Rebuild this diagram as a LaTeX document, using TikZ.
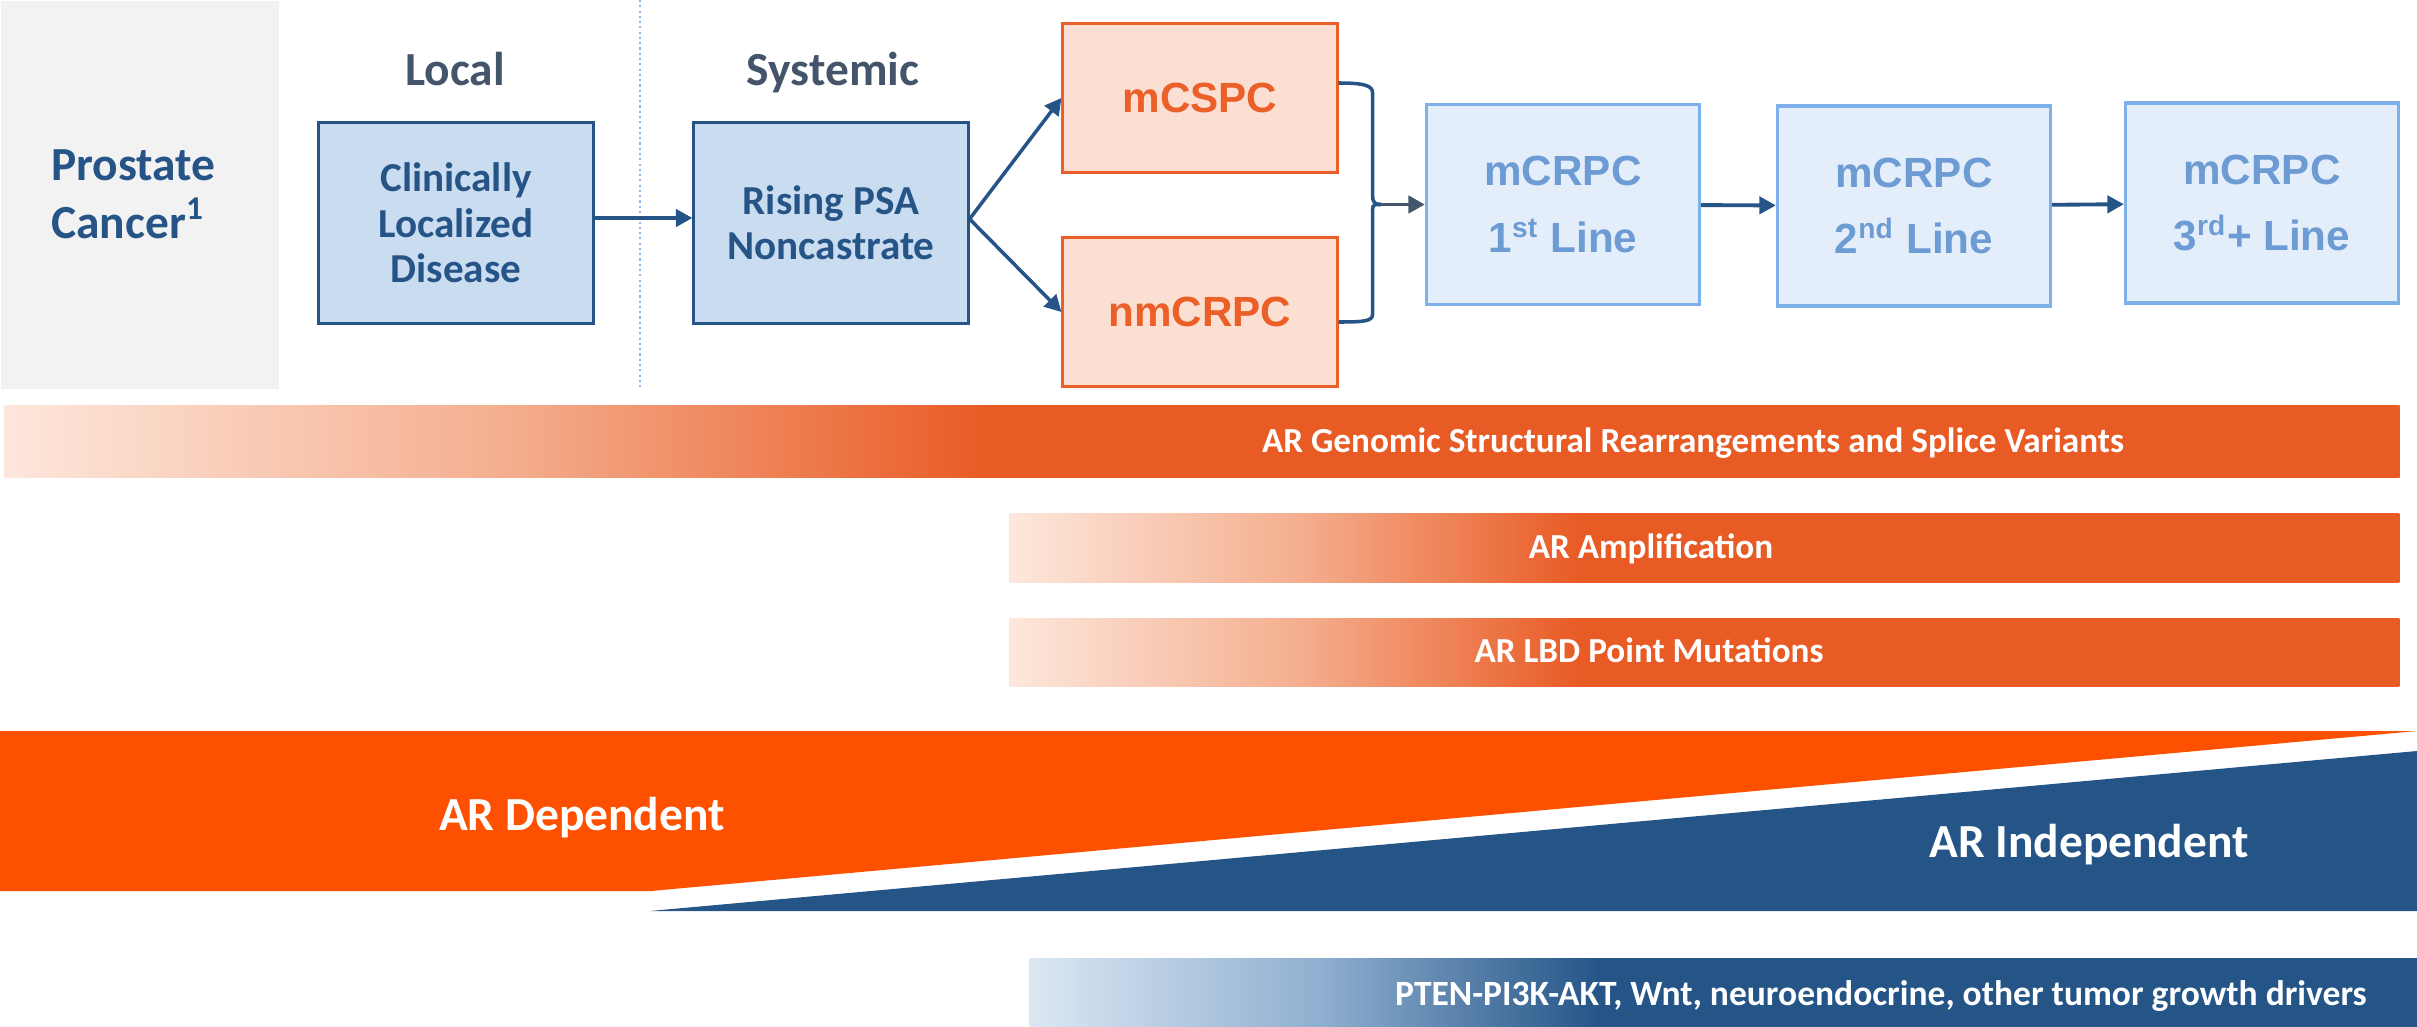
\documentclass[tikz,border=0pt]{standalone}
\usepackage{fontspec}
\setmainfont{Carlito}
\newfontfamily\arialfont{Liberation Sans}
\usepackage{tikz}
\usetikzlibrary{arrows.meta, positioning}
\definecolor{navy}{HTML}{265487}
\definecolor{slate}{HTML}{44546A}
\definecolor{panelgray}{HTML}{F2F2F2}
\definecolor{localfill}{HTML}{C9DCF0}
\definecolor{salmonfill}{HTML}{FBDFD3}
\definecolor{salmonline}{HTML}{EB5F28}
\definecolor{palefill}{HTML}{E4EEFA}
\definecolor{paleline}{HTML}{7EB0EA}
\definecolor{paletext}{HTML}{6D9BD3}
\definecolor{dotblue}{HTML}{8DB8EE}
\definecolor{barorange}{HTML}{E95B25}
\definecolor{barmid}{HTML}{F4AE8E}
\definecolor{barlight}{HTML}{FDE7DC}
\definecolor{deporange}{HTML}{FD5000}
\definecolor{indepblue}{HTML}{255587}
\definecolor{bluemid}{HTML}{8FAFD0}
\definecolor{bluelight}{HTML}{DCE7F3}
\pgfdeclarehorizontalshading{orangefade}{100bp}{color(0bp)=(barlight); color(25bp)=(barlight); color(35.5bp)=(barmid); color(45.5bp)=(barorange); color(100bp)=(barorange)}
\pgfdeclarehorizontalshading{bluefade}{100bp}{color(0bp)=(bluelight); color(25bp)=(bluelight); color(35.5bp)=(bluemid); color(45.5bp)=(indepblue); color(100bp)=(indepblue)}
\tikzstyle{panel} = [rectangle, inner sep=0pt, minimum width=2.78cm, minimum height=3.88cm, fill=panelgray]
\tikzstyle{heading} = [text=slate, font=\bfseries\fontsize{13.5}{16}\selectfont]
\tikzstyle{stage} = [rectangle, minimum width=2.74cm, minimum height=2cm, text centered, align=center, line width=0.85pt, draw=navy, fill=localfill, text=navy, font=\bfseries\fontsize{11.7}{12.9}\selectfont]
\tikzstyle{meta} = [rectangle, minimum width=2.74cm, minimum height=1.48cm, text centered, line width=0.85pt, draw=salmonline, fill=salmonfill, text=salmonline, font=\arialfont\bfseries\fontsize{12}{14}\selectfont]
\tikzstyle{crpc} = [rectangle, minimum width=2.73cm, minimum height=2cm, text centered, align=center, line width=0.9pt, draw=paleline, fill=palefill, text=paletext, font=\arialfont\bfseries\fontsize{12}{19}\selectfont]
\tikzstyle{orangebar} = [rectangle, inner sep=0pt, shade, shading=orangefade]
\tikzstyle{bluebar} = [rectangle, inner sep=0pt, shade, shading=bluefade]
\tikzstyle{bartext} = [anchor=base, text=white, font=\bfseries\fontsize{10}{12}\selectfont]
\tikzstyle{bigtext} = [anchor=base, text=white, font=\bfseries\fontsize{13.5}{16}\selectfont]
\tikzstyle{dotline} = [draw=dotblue, line width=0.6pt, dash pattern=on 0.6pt off 0.9pt]
\tikzstyle{arrow} = [-{Triangle[length=4.7pt, width=4.9pt]}, line width=1.1pt, draw=navy, fill=navy]
\tikzstyle{brace} = [line width=1pt, draw=navy]

\begin{document}
\begin{tikzpicture}[x=0.01cm, y=-0.01cm]
		\useasboundingbox (0,0) rectangle (2417,1027);
		% disease states
		\node (panel) [panel, anchor=north west] at (0,0) {};
		\node (prostate) [anchor=west, align=left, text=navy, font=\bfseries\fontsize{13.5}{16.5}\selectfont] at (39,194) {Prostate\\Cancer\textsuperscript{1}};
		\node (local) [heading, anchor=base] at (455,85) {Local};
		\node (systemic) [heading, anchor=base] at (833,85) {Systemic};
		\draw [dotline] (640,0) -- (640,388);
		\node (clinical) [stage] at (456,223) {Clinically\\Localized\\Disease};
		\node (rising) [stage] at (831,223) {Rising PSA\\Noncastrate};
		\node (mcspc) [meta] at (1200,98) {mCSPC};
		\node (nmcrpc) [meta] at (1200,312) {nmCRPC};
		\node (line1) [crpc] at (1563,204.5) {mCRPC\\1\textsuperscript{st} Line};
		\node (line2) [crpc] at (1914,206) {mCRPC\\2\textsuperscript{nd} Line};
		\node (line3) [crpc] at (2262,203) {mCRPC\\3\textsuperscript{rd}+ Line};
		\coordinate (bracetip) at ([xshift=-0.44cm]line1.west);

		\draw [arrow] ([yshift=0.05cm]clinical.east) -- ([yshift=0.05cm]rising.west);
		\draw [arrow, line width=1pt] ([yshift=0.04cm]rising.east) -- (mcspc.west);
		\draw [arrow, line width=1pt] ([yshift=0.04cm]rising.east) -- (nmcrpc.west);
		\draw [brace] ([yshift=0.15cm]mcspc.east) .. controls +(27,0) and +(0,-7) .. ++(34,10) -- ++(0,103) .. controls +(0,6) and +(-6,0) .. (bracetip);
		\draw [brace] ([yshift=-0.10cm]nmcrpc.east) .. controls +(27,0) and +(0,7) .. ++(34,-8) -- ++(0,-104) .. controls +(0,-6) and +(-6,0) .. (bracetip);
		\draw [arrow, draw=slate, fill=slate] (bracetip) -- (line1);
		\draw [arrow] (line1) -- (line2);
		\draw [arrow] (line2) -- (line3);

		% AR alterations
		\node (genomic) [orangebar, minimum width=23.94cm, minimum height=0.71cm] at (1202,441.5) {};
		\node (amp) [orangebar, minimum width=13.89cm, minimum height=0.68cm] at (1704.5,548) {};
		\node (lbd) [orangebar, minimum width=13.89cm, minimum height=0.68cm, below=0.35cm of amp] {};
		\node (genomictext) [bartext] at (1693,452) {AR Genomic Structural Rearrangements and Splice Variants};
		\node (amptext) [bartext] at (1651,558) {AR Amplification};
		\node (lbdtext) [bartext] at (1649,662) {AR LBD Point Mutations};

		\fill [deporange] (0,731) -- (2417,731) -- (651,891) -- (0,891) -- cycle;
		\fill [indepblue] (650,911) -- (2417,751) -- (2417,911) -- cycle;
		\node (deptext) [bigtext] at (582,830) {AR Dependent};
		\node (indeptext) [bigtext] at (2089,857) {AR Independent};

		\node (pten) [bluebar, minimum width=13.87cm, minimum height=0.67cm] at (1723.5,992.5) {};
		\node (ptentext) [bartext, font=\bfseries\fontsize{10.1}{12}\selectfont] at (1881,1005) {PTEN-PI3K-AKT, Wnt, neuroendocrine, other tumor growth drivers};
	\end{tikzpicture}
\end{document}
